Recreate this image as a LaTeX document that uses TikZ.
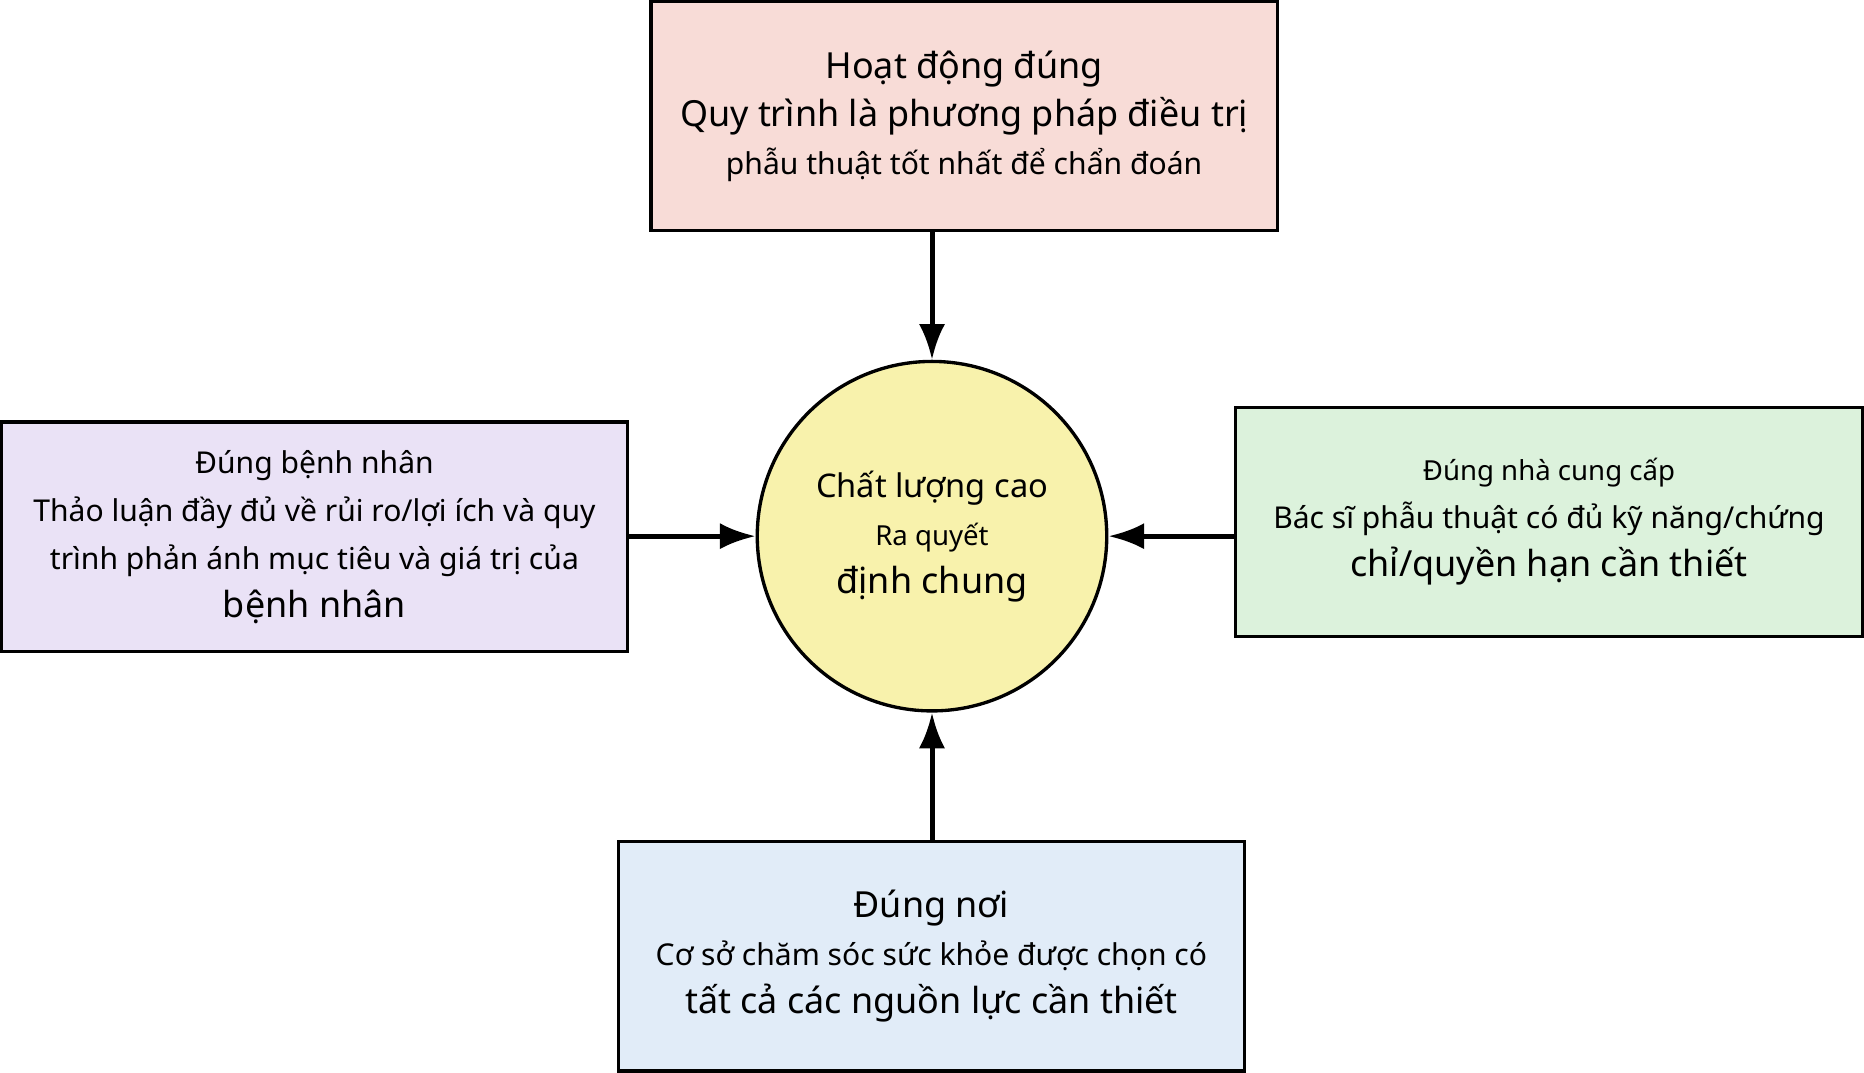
\documentclass[tikz,border=0pt]{standalone}
\usepackage{fontspec}
\setmainfont{Noto Sans}
\usepackage{tikz}
\usetikzlibrary{arrows.meta, positioning, calc}
\definecolor{pinkbox}{RGB}{248, 220, 215}
\definecolor{lilacbox}{RGB}{234, 226, 246}
\definecolor{greenbox}{RGB}{220, 242, 220}
\definecolor{bluebox}{RGB}{225, 236, 248}
\definecolor{yellowcircle}{RGB}{248, 242, 172}
\newcommand{\biggertext}[1]{{\fontsize{8.6}{11.5}\selectfont #1}}
\newcommand{\smallertext}[1]{{\fontsize{6.6}{11.5}\selectfont #1}}

\begin{document}
\begin{tikzpicture}[
    box/.style={draw, thick, minimum width=5.27cm, minimum height=1.93cm, inner sep=2pt, align=center, font=\fontsize{7.2}{11.5}\selectfont},
    arrow/.style={-{Latex[length=3mm, width=2.2mm]}, very thick}
]
    \useasboundingbox (0,0) rectangle (15.68,-9.02);
    \node[draw, thick, circle, minimum size=2.94cm, inner sep=1pt, fill=yellowcircle, align=center, font=\fontsize{7.8}{11.5}\selectfont] (quality) at (7.84,-4.51) {Chất lượng cao\\\smallertext{Ra quyết}\\\biggertext{định chung}};

    \node[box, fill=pinkbox] (procedure) at (8.11,-0.975) {\biggertext{Hoạt động đúng}\\\biggertext{Quy trình là phương pháp điều trị}\\phẫu thuật tốt nhất để chẩn đoán};
    \node[box, fill=lilacbox] (patient) at (2.645,-4.515) {Đúng bệnh nhân\\Thảo luận đầy đủ về rủi ro/lợi ích và quy\\trình phản ánh mục tiêu và giá trị của\\\biggertext{bệnh nhân}};
    \node[box, fill=greenbox] (provider) at (13.03,-4.39) {\smallertext{Đúng nhà cung cấp}\\Bác sĩ phẫu thuật có đủ kỹ năng/chứng\\\biggertext{chỉ/quyền hạn cần thiết}};
    \node[box, fill=bluebox] (place) at (7.835,-8.045) {\biggertext{Đúng nơi}\\Cơ sở chăm sóc sức khỏe được chọn có\\\biggertext{tất cả các nguồn lực cần thiết}};

    \draw[arrow] (procedure.south -| quality) -- (quality.north);
    \draw[arrow] (patient.east |- quality) -- (quality.west);
    \draw[arrow] (provider.west |- quality) -- (quality.east);
    \draw[arrow] (place.north -| quality) -- (quality.south);
\end{tikzpicture}
\end{document}
